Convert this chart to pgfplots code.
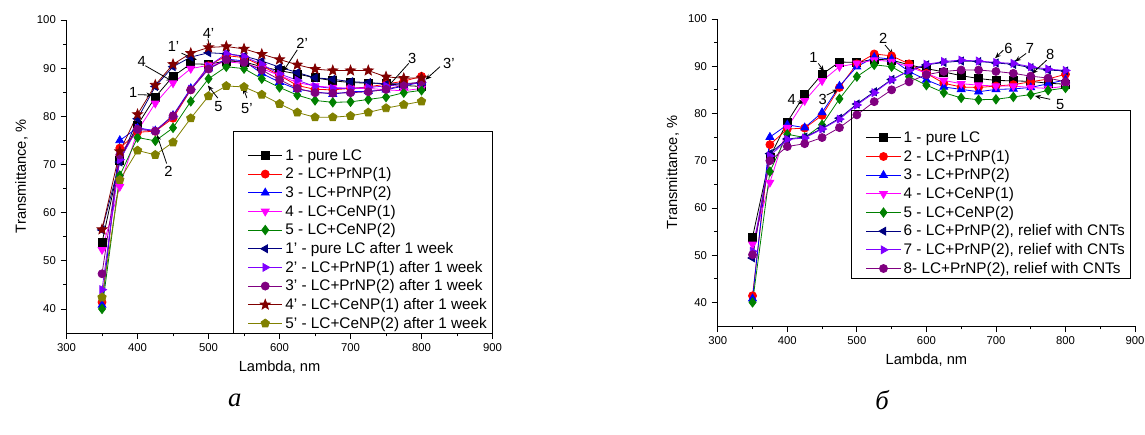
\documentclass[border=0pt]{standalone}
\usepackage{fontspec}
\setmainfont{Liberation Sans}
\newfontfamily\capfont{Liberation Serif}
\usepackage{pgfplots}
\pgfplotsset{compat=1.18}
\usetikzlibrary{arrows.meta}

\definecolor{cRed}{HTML}{FF0000}
\definecolor{cBlue}{HTML}{0000FF}
\definecolor{cMag}{HTML}{FF00FF}
\definecolor{cGreen}{HTML}{008000}
\definecolor{cNavy}{HTML}{000080}
\definecolor{cViolet}{HTML}{8000FF}
\definecolor{cPurple}{HTML}{800080}
\definecolor{cWine}{HTML}{800000}
\definecolor{cOlive}{HTML}{808000}

% filled five-point star
\pgfdeclareplotmark{fstar}{%
  \pgfpathmoveto{\pgfpointpolar{90}{1.3\pgfplotmarksize}}%
  \pgfpathlineto{\pgfpointpolar{126}{0.55\pgfplotmarksize}}%
  \pgfpathlineto{\pgfpointpolar{162}{1.3\pgfplotmarksize}}%
  \pgfpathlineto{\pgfpointpolar{198}{0.55\pgfplotmarksize}}%
  \pgfpathlineto{\pgfpointpolar{234}{1.3\pgfplotmarksize}}%
  \pgfpathlineto{\pgfpointpolar{270}{0.55\pgfplotmarksize}}%
  \pgfpathlineto{\pgfpointpolar{306}{1.3\pgfplotmarksize}}%
  \pgfpathlineto{\pgfpointpolar{342}{0.55\pgfplotmarksize}}%
  \pgfpathlineto{\pgfpointpolar{18}{1.3\pgfplotmarksize}}%
  \pgfpathlineto{\pgfpointpolar{54}{0.55\pgfplotmarksize}}%
  \pgfpathclose\pgfusepathqfillstroke}

\tikzset{
  arr/.style={-{Stealth[length=4.5pt,width=3.5pt]},line width=0.6pt},
  lab/.style={font=\fontsize{11}{13}\selectfont},
}

\pgfplotsset{
  panel/.style={
    scale only axis, axis lines=left, axis line style={-,line width=0.6pt},
    xmin=300,xmax=900,ymin=35,ymax=100,
    xtick={300,400,...,900}, ytick={40,50,...,100},
    minor x tick num=1, minor y tick num=1,
    tick align=outside, major tick length=4.5pt, minor tick length=2.5pt,
    tick style={black,line width=0.6pt},
    tick label style={font=\fontsize{8.5}{10}\selectfont},
    /pgf/number format/assume math mode=true,
    label style={font=\fontsize{11}{13}\selectfont},
    xlabel={Lambda, nm}, ylabel={Transmittance, \%},
    clip=false, mark size=3pt,
    every axis plot/.append style={line width=0.6pt},
    legend cell align=left,
    legend image code/.code={\path (0cm,0cm); \draw[mark repeat=2,mark phase=2,##1] plot coordinates {(0.3cm,0cm) (0.75cm,0cm) (1.2cm,0cm)};},
    legend style={draw=none,fill=none,font=\fontsize{11.5}{13}\selectfont,
      inner xsep=2pt,inner ysep=0pt,row sep=0pt,
      nodes={inner ysep=0.5pt,text height=10pt,text depth=3pt}},
  },
}

\begin{document}
\begin{tikzpicture}
\path[use as bounding box] (0,0) rectangle (858.75pt,-326.25pt);

% ---------- panel a ----------
\begin{axis}[panel, at={(49.9pt,-249.75pt)}, width=319.5pt, height=234.75pt,
  legend style={at={(1,0)},anchor=south east,name=legA}]
\addplot[black,mark=square*] coordinates {(350,53.8) (375,70.8) (400,78.2) (425,84.0) (450,88.3) (475,90.9) (500,90.8) (525,91.5) (550,91.3) (575,90.3) (600,89.5) (625,88.8) (650,88.0) (675,87.4) (700,87.0) (725,86.9) (750,86.8) (775,86.4) (800,86.2)};
\addlegendentry{1 - pure LC}
\addplot[cRed,mark=*] coordinates {(350,41.4) (375,73.4) (400,76.7) (425,76.9) (450,79.6) (475,85.5) (500,90.5) (525,92.6) (550,92.2) (575,90.5) (600,88.5) (625,86.4) (650,85.6) (675,85.5) (700,85.8) (725,86.1) (750,86.7) (775,87.3) (800,88.3)};
\addlegendentry{2 - LC+PrNP(1)}
\addplot[cBlue,mark=triangle*,mark size=3.4pt] coordinates {(350,40.8) (375,75.0) (400,77.6) (425,77.0) (450,80.2) (475,85.8) (500,89.9) (525,91.9) (550,91.5) (575,88.9) (600,87.1) (625,85.6) (650,85.1) (675,84.6) (700,85.1) (725,85.2) (750,85.5) (775,86.3) (800,87.1)};
\addlegendentry{3 - LC+PrNP(2)}
\addplot[cMag,mark=triangle*,mark size=3.4pt,mark options={rotate=180}] coordinates {(350,52.3) (375,65.4) (400,77.0) (425,82.7) (450,86.9) (475,89.9) (500,90.6) (525,91.3) (550,91.0) (575,89.9) (600,88.5) (625,87.0) (650,86.3) (675,86.0) (700,85.8) (725,85.8) (750,85.5) (775,85.3) (800,85.8)};
\addlegendentry{4 - LC+CeNP(1)}
\addplot[cGreen,mark=diamond*,mark size=3.5pt] coordinates {(350,40.0) (375,67.7) (400,75.6) (425,74.9) (450,77.6) (475,83.1) (500,87.8) (525,90.3) (550,89.9) (575,87.8) (600,86.0) (625,84.4) (650,83.3) (675,82.9) (700,83.0) (725,83.5) (750,84.0) (775,84.9) (800,85.4)};
\addlegendentry{5 - LC+CeNP(2)}
\addplot[cNavy,mark=triangle*,mark size=3.4pt,mark options={rotate=90}] coordinates {(350,56.4) (375,70.5) (400,79.5) (425,86.2) (450,90.3) (475,92.3) (500,93.2) (525,93.0) (550,92.5) (575,91.5) (600,90.2) (625,89.1) (650,88.0) (675,87.7) (700,87.2) (725,87.0) (750,86.7) (775,86.8) (800,87.0)};
\addlegendentry{1' - pure LC after 1 week}
\addplot[cViolet,mark=triangle*,mark size=3.4pt,mark options={rotate=-90}] coordinates {(350,44.0) (375,71.0) (400,77.5) (425,77.0) (450,80.0) (475,85.6) (500,90.4) (525,93.0) (550,92.4) (575,90.8) (600,88.8) (625,87.5) (650,86.2) (675,85.8) (700,85.8) (725,86.0) (750,86.3) (775,86.6) (800,87.0)};
\addlegendentry{2' - LC+PrNP(1) after 1 week}
\addplot[cPurple,mark=*] coordinates {(350,47.3) (375,72.0) (400,77.3) (425,76.9) (450,80.1) (475,85.5) (500,89.8) (525,91.8) (550,91.2) (575,89.6) (600,87.6) (625,85.8) (650,84.9) (675,84.8) (700,84.9) (725,85.1) (750,85.6) (775,86.5) (800,87.2)};
\addlegendentry{3' - LC+PrNP(2) after 1 week}
\addplot[cWine,mark=fstar] coordinates {(350,56.5) (375,72.7) (400,80.4) (425,86.5) (450,90.8) (475,93.1) (500,94.3) (525,94.5) (550,94.0) (575,92.9) (600,91.8) (625,90.7) (650,89.8) (675,89.5) (700,89.5) (725,89.5) (750,88.2) (775,87.9) (800,88.0)};
\addlegendentry{4' - LC+CeNP(1) after 1 week}
\addplot[cOlive,mark=pentagon*,mark size=3.3pt] coordinates {(350,42.4) (375,66.8) (400,72.9) (425,72.0) (450,74.6) (475,79.6) (500,84.2) (525,86.3) (550,86.1) (575,84.5) (600,82.6) (625,80.8) (650,79.8) (675,79.8) (700,80.1) (725,80.8) (750,81.7) (775,82.4) (800,83.1)};
\addlegendentry{5' - LC+CeNP(2) after 1 week}

\node[lab] at (axis cs:393.8,84.9) {1};
\draw[arr] (axis cs:400.5,84.5) -- (axis cs:421,84.4);
\node[lab] at (axis cs:406,91.4) {4};
\draw[arr] (axis cs:411,90.5) -- (axis cs:449,87.3);
\node[lab] at (axis cs:450.6,94.5) {1'};
\draw[arr] (axis cs:462,93.1) -- (axis cs:483.6,91.7);
\node[lab] at (axis cs:500,97.2) {4'};
\draw[arr] (axis cs:499,96.1) -- (axis cs:502,94.0);
\node[lab] at (axis cs:514,82.0) {5};
\draw[arr] (axis cs:513,83.8) -- (axis cs:499,86.4);
\node[lab] at (axis cs:554,81.7) {5'};
\draw[arr] (axis cs:554,83.8) -- (axis cs:549,85.9);
\node[lab] at (axis cs:443.6,68.5) {2};
\draw[arr] (axis cs:441,70.2) -- (axis cs:427.2,76.2);
\node[lab] at (axis cs:631.8,95.2) {2'};
\draw[arr] (axis cs:625,93.8) -- (axis cs:605,89.3);
\node[lab] at (axis cs:786.8,92.1) {3};
\draw[arr] (axis cs:782,91.0) -- (axis cs:751.6,86.0);
\node[lab] at (axis cs:838.5,91.0) {3'};
\draw[arr] (axis cs:826,90.3) -- (axis cs:805.6,87.6);
\end{axis}
\draw[line width=0.6pt] (legA.south west) rectangle ([yshift=10.5pt]legA.north east);

% ---------- panel b ----------
\begin{axis}[panel, at={(538.3pt,-244.5pt)}, width=313pt, height=230.25pt,
  legend style={at={(0.321,0.156)},anchor=south west,name=legB}]
\addplot[black,mark=square*] coordinates {(350,53.8) (375,70.8) (400,78.2) (425,84.0) (450,88.3) (475,90.9) (500,90.8) (525,91.5) (550,91.3) (575,90.3) (600,89.5) (625,88.8) (650,88.0) (675,87.4) (700,87.0) (725,86.9) (750,86.8) (775,86.4) (800,86.2)};
\addlegendentry{1 - pure LC}
\addplot[cRed,mark=*] coordinates {(350,41.4) (375,73.4) (400,76.7) (425,76.9) (450,79.6) (475,85.5) (500,90.5) (525,92.6) (550,92.2) (575,90.5) (600,88.5) (625,86.4) (650,85.6) (675,85.5) (700,85.8) (725,86.1) (750,86.7) (775,87.3) (800,88.3)};
\addlegendentry{2 - LC+PrNP(1)}
\addplot[cBlue,mark=triangle*,mark size=3.4pt] coordinates {(350,40.8) (375,75.0) (400,77.6) (425,77.0) (450,80.2) (475,85.8) (500,89.9) (525,91.9) (550,91.5) (575,88.9) (600,87.1) (625,85.6) (650,85.1) (675,84.6) (700,85.1) (725,85.2) (750,85.5) (775,86.3) (800,87.1)};
\addlegendentry{3 - LC+PrNP(2)}
\addplot[cMag,mark=triangle*,mark size=3.4pt,mark options={rotate=180}] coordinates {(350,52.3) (375,65.4) (400,77.0) (425,82.7) (450,86.9) (475,89.9) (500,90.6) (525,91.3) (550,91.0) (575,89.9) (600,88.5) (625,87.0) (650,86.3) (675,86.0) (700,85.8) (725,85.8) (750,85.5) (775,85.3) (800,85.8)};
\addlegendentry{4 - LC+CeNP(1)}
\addplot[cGreen,mark=diamond*,mark size=3.5pt] coordinates {(350,40.0) (375,67.7) (400,75.6) (425,74.9) (450,77.6) (475,83.1) (500,87.8) (525,90.3) (550,89.9) (575,87.8) (600,86.0) (625,84.4) (650,83.3) (675,82.9) (700,83.0) (725,83.5) (750,84.0) (775,84.9) (800,85.4)};
\addlegendentry{5 - LC+CeNP(2)}
\addplot[cNavy,mark=triangle*,mark size=3.4pt,mark options={rotate=90}] coordinates {(350,49.4) (375,71.5) (400,74.6) (425,75.0) (450,76.8) (475,79.0) (500,82.0) (525,84.6) (550,87.2) (575,89.0) (600,90.3) (625,90.8) (650,91.1) (675,91.0) (700,90.7) (725,90.4) (750,89.7) (775,89.2) (800,89.0)};
\addlegendentry{6 - LC+PrNP(2), relief with CNTs}
\addplot[cViolet,mark=triangle*,mark size=3.4pt,mark options={rotate=-90}] coordinates {(350,50.8) (375,71.0) (400,74.5) (425,74.8) (450,76.7) (475,78.8) (500,81.8) (525,84.4) (550,87.1) (575,89.1) (600,90.4) (625,91.0) (650,91.3) (675,91.1) (700,90.8) (725,90.6) (750,89.9) (775,89.4) (800,89.1)};
\addlegendentry{7 - LC+PrNP(2), relief with CNTs}
\addplot[cPurple,mark=*] coordinates {(350,50.1) (375,70.0) (400,73.0) (425,73.6) (450,74.9) (475,77.0) (500,79.7) (525,82.5) (550,85.0) (575,86.7) (600,88.2) (625,88.9) (650,89.2) (675,89.2) (700,88.9) (725,88.5) (750,87.9) (775,87.5) (800,86.7)};
\addlegendentry{8- LC+PrNP(2), relief with CNTs}

\node[lab] at (axis cs:437.5,91.9) {1};
\draw[arr] (axis cs:444.6,90.6) -- (axis cs:452.8,88.9);
\node[lab] at (axis cs:406.4,83.0) {4};
\draw[arr] (axis cs:414.5,82.5) -- (axis cs:424.5,82.2);
\node[lab] at (axis cs:451,82.9) {3};
\draw[arr] (axis cs:456.7,83.9) -- (axis cs:473.4,85.1);
\node[lab] at (axis cs:538,95.9) {2};
\draw[arr] (axis cs:540.5,94.5) -- (axis cs:552.5,92.4);
\node[lab] at (axis cs:717.9,93.8) {6};
\draw[arr] (axis cs:710.6,93.4) -- (axis cs:698.7,91.7);
\node[lab] at (axis cs:749,93.8) {7};
\draw[arr] (axis cs:743.3,92.7) -- (axis cs:727.5,91.0);
\node[lab] at (axis cs:778,92.4) {8};
\draw[arr] (axis cs:773,91.3) -- (axis cs:751.5,88.4);
\node[lab] at (axis cs:792.2,81.8) {5};
\draw[arr] (axis cs:778,83.0) -- (axis cs:756,83.7);
\end{axis}
\draw[line width=0.6pt] (legB.south west) rectangle ([yshift=13.3pt]legB.north east);

\node[font=\capfont\itshape\fontsize{20}{24}\selectfont] at (176pt,-300pt) {а};
\node[font=\capfont\itshape\fontsize{20}{24}\selectfont] at (661.5pt,-300pt) {б};
\end{tikzpicture}
\end{document}
